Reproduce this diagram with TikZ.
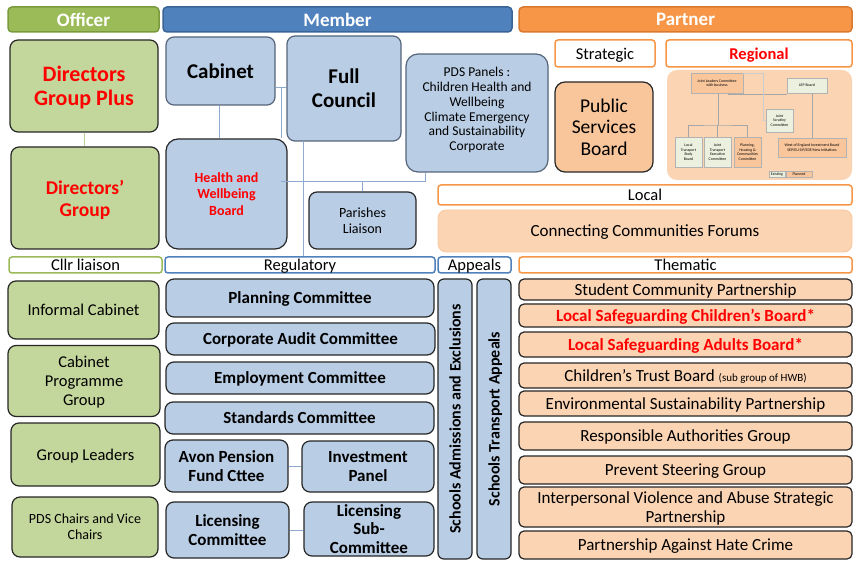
\documentclass[tikz,border=0pt]{standalone}
\usepackage{fontspec}
\setmainfont{Carlito}
\usetikzlibrary{positioning}
\definecolor{offgreen}{HTML}{9BBB59}
\definecolor{offgreendark}{HTML}{7A9A3E}
\definecolor{offlight}{HTML}{C3D69B}
\definecolor{memblue}{HTML}{4F81BD}
\definecolor{membluedark}{HTML}{3A6496}
\definecolor{memlight}{HTML}{B9CDE5}
\definecolor{partorange}{HTML}{F79646}
\definecolor{partorangedark}{HTML}{D97A30}
\definecolor{partlight}{HTML}{FBD4B4}
\definecolor{partmid}{HTML}{F9C69C}
\definecolor{linkblue}{HTML}{8EAAD0}
\definecolor{boxedge}{HTML}{262626}
\definecolor{softedge}{HTML}{55657A}
\definecolor{redtext}{HTML}{FF0000}
\definecolor{minigreen}{HTML}{EBF1DE}
\tikzstyle{head} = [rectangle, rounded corners=4pt, line width=1.5pt, inner sep=0pt, text=white, font=\fontsize{19}{22}\selectfont\bfseries]
\tikzstyle{officerhead} = [head, fill=offgreen, draw=offgreendark]
\tikzstyle{memberhead} = [head, fill=memblue, draw=membluedark]
\tikzstyle{partnerhead} = [head, fill=partorange, draw=partorangedark]
\tikzstyle{subhead} = [rectangle, rounded corners=3pt, line width=1.5pt, fill=white, inner sep=0pt, text depth=0pt, font=\fontsize{16.5}{18}\selectfont]
\tikzstyle{officersub} = [subhead, draw=offgreen]
\tikzstyle{membersub} = [subhead, draw=memblue]
\tikzstyle{partnersub} = [subhead, draw=partorange]
\tikzstyle{box} = [rectangle, rounded corners=8pt, line width=1.2pt, draw=boxedge, inner sep=1pt, text depth=0pt, align=center]
\tikzstyle{officerbox} = [box, fill=offlight, font=\fontsize{16.5}{19}\selectfont]
\tikzstyle{memberbox} = [box, fill=memlight, font=\fontsize{17}{18.5}\selectfont\bfseries]
\tikzstyle{partnerbox} = [box, fill=partlight, rounded corners=5pt, font=\fontsize{17}{19}\selectfont]
\tikzstyle{redbold} = [text=redtext, font=\fontsize{17}{19}\selectfont\bfseries]
\tikzstyle{link} = [line width=1pt, draw=linkblue]
\tikzstyle{minibox} = [rectangle, draw=gray!60, line width=0.4pt, inner sep=0.3pt, align=center, font=\fontsize{3.9}{4.5}\selectfont]
\tikzstyle{minilink} = [line width=0.5pt, draw=gray!70]

\begin{document}
\begin{tikzpicture}[x=1pt, y=-1pt]
\useasboundingbox [fill=white] (0,0) rectangle (854,561);

% column heads
\node (officerh) [officerhead, minimum width=151pt, minimum height=25pt] at (83.5,19.5) {Officer};
\node (memberh) [memberhead, minimum width=349pt, minimum height=25pt] at (337.5,19.5) {Member};
\node (partnerh) [partnerhead, minimum width=333pt, minimum height=25pt] at (685.5,19.5) {Partner};

% officer
\node (dgplus) [officerbox, redbold, font=\fontsize{22}{24}\selectfont\bfseries, minimum width=148pt, minimum height=92pt] at (84,86) {Directors\\Group Plus};
\node (dgroup) [officerbox, redbold, font=\fontsize{19.5}{22}\selectfont\bfseries, minimum width=148pt, minimum height=102pt] at (85,198) {Directors’\\Group};
\node (cllrh) [officersub, minimum width=153pt, minimum height=16pt] at (85.5,265) {Cllr liaison};
\node (infcab) [officerbox, minimum width=151pt, minimum height=58pt] at (83.5,310) {Informal Cabinet};
\node (cpg) [officerbox, minimum width=152pt, minimum height=71pt] at (84,381) {Cabinet\\Programme\\Group};
\node (leaders) [officerbox, minimum width=149pt, minimum height=63pt] at (85.5,454.5) {Group Leaders};
\node (pdschairs) [officerbox, font=\fontsize{14}{16}\selectfont, minimum width=146pt, minimum height=60pt] at (85,527) {PDS Chairs and Vice\\Chairs};

% member
\node (cabinet) [memberbox, draw=softedge, font=\fontsize{21}{24}\selectfont\bfseries, minimum width=109pt, minimum height=68pt] at (220.5,71) {Cabinet};
\node (council) [memberbox, draw=softedge, font=\fontsize{21}{24}\selectfont\bfseries, minimum width=114pt, minimum height=105pt] at (344,88.5) {Full\\Council};
\node (pdspanels) [memberbox, draw=softedge, rounded corners=12pt, text depth=8pt, font=\fontsize{13.5}{14.8}\selectfont, minimum width=142pt, minimum height=118pt] at (477,113) {PDS Panels :\\Children Health and\\Wellbeing\\Climate Emergency\\and Sustainability\\Corporate};
\node (hwb) [memberbox, rounded corners=12pt, text=redtext, font=\fontsize{14}{16.5}\selectfont\bfseries, minimum width=121pt, minimum height=110pt] at (226.5,194) {Health and\\Wellbeing\\Board};
\node (parishes) [memberbox, font=\fontsize{14}{16}\selectfont, minimum width=107pt, minimum height=57pt] at (362.5,220.5) {Parishes\\Liaison};
\node (regh) [membersub, minimum width=270pt, minimum height=16pt] at (300,265) {Regulatory};
\node (planning) [memberbox, minimum width=268pt, minimum height=38pt] at (300,298) {Planning Committee};
\node (audit) [memberbox, minimum width=269pt, minimum height=32pt] at (300.5,339) {Corporate Audit Committee};
\node (employ) [memberbox, minimum width=268pt, minimum height=32pt] at (300,378) {Employment Committee};
\node (standards) [memberbox, minimum width=269pt, minimum height=32pt] at (299.5,418) {Standards Committee};
\node (avon) [memberbox, minimum width=123pt, minimum height=52pt] at (226.5,466) {Avon Pension\\Fund Cttee};
\node (invest) [memberbox, minimum width=132pt, minimum height=51pt] at (368,466.5) {Investment\\Panel};
\node (licensing) [memberbox, minimum width=123pt, minimum height=56pt] at (227.5,530) {Licensing\\Committee};
\node (licsub) [memberbox, minimum width=130pt, minimum height=54pt] at (369,529) {Licensing\\Sub-\\Committee};
\node (appealsh) [membersub, minimum width=73pt, minimum height=16pt] at (474.5,265) {Appeals};
\node (admissions) [memberbox, font=\fontsize{16}{18}\selectfont\bfseries, rounded corners=6pt, rotate=90, minimum width=280pt, minimum height=34pt] at (455,419) {Schools Admissions and Exclusions};
\node (transport) [memberbox, font=\fontsize{16}{18}\selectfont\bfseries, rounded corners=6pt, rotate=90, minimum width=280pt, minimum height=34pt] at (494,419) {Schools Transport Appeals};

% partner
\node (strategich) [partnersub, minimum width=100pt, minimum height=27pt] at (605,53.5) {Strategic};
\node (regionalh) [partnersub, text=redtext, font=\fontsize{16.5}{18}\selectfont\bfseries, minimum width=186pt, minimum height=27pt] at (759,53.5) {Regional};
\node (psb) [partnerbox, fill=partmid, rounded corners=10pt, font=\fontsize{19.5}{21.5}\selectfont, minimum width=98pt, minimum height=90pt] at (604,127) {Public\\Services\\Board};
\node (regionbg) [rectangle, rounded corners=10pt, fill=partlight, minimum width=185pt, minimum height=110pt] at (759.5,125) {};
\node (localh) [partnersub, minimum width=414pt, minimum height=20pt] at (645,195) {Local};
\node (ccf) [partnerbox, draw=partlight!80!partorange, line width=0.8pt, rounded corners=8pt, minimum width=414pt, minimum height=42pt] at (645,231) {Connecting Communities Forums};
\node (thematich) [partnersub, minimum width=333pt, minimum height=16pt] at (685.5,265) {Thematic};
\node (scp) [partnerbox, minimum width=333pt, minimum height=21pt] at (685.5,289.5) {Student Community Partnership};
\node (lscb) [partnerbox, redbold, minimum width=333pt, minimum height=23pt] at (685.5,315.5) {Local Safeguarding Children's Board*};
\node (lsab) [partnerbox, redbold, minimum width=333pt, minimum height=25pt] at (685.5,344.5) {Local Safeguarding Adults Board*};
\node (ctb) [partnerbox, minimum width=333pt, minimum height=25pt] at (685.5,375.5) {Children’s Trust Board {\fontsize{11}{12}\selectfont(sub group of HWB)}};
\node (esp) [partnerbox, minimum width=333pt, minimum height=25pt] at (685.5,403.5) {Environmental Sustainability Partnership};
\node (rag) [partnerbox, minimum width=333pt, minimum height=28pt] at (685.5,436) {Responsible Authorities Group};
\node (psg) [partnerbox, minimum width=333pt, minimum height=28pt] at (685.5,470) {Prevent Steering Group};
\node (ivasp) [partnerbox, minimum width=333pt, minimum height=40pt] at (685.5,507) {Interpersonal Violence and Abuse Strategic\\Partnership};
\node (pahc) [partnerbox, minimum width=333pt, minimum height=28pt] at (685.5,545) {Partnership Against Hate Crime};

% regional chart
\node (jlc) [minibox, fill=partmid, minimum width=52pt, minimum height=20pt] at (717,83) {Joint Leaders Committee\\with business};
\node (lep) [minibox, fill=minigreen, minimum width=40pt, minimum height=15pt] at (807,85.5) {LEP Board};
\node (ltbb) [minibox, fill=minigreen, minimum width=27pt, minimum height=30pt] at (688.5,152) {Local\\Transport\\Body\\Board};
\node (jtec) [minibox, fill=minigreen, minimum width=27pt, minimum height=30pt] at (717.5,152) {Joint\\Transport\\Executive\\Committee};
\node (phcc) [minibox, fill=partmid, minimum width=27pt, minimum height=30pt] at (747.5,152) {Planning,\\Housing \&\\Communities\\Committee};
\node (jsc) [minibox, fill=minigreen, minimum width=27pt, minimum height=23pt] at (779.5,120.5) {Joint\\Scrutiny\\Committee};
\node (woeib) [minibox, fill=partmid, minimum width=68pt, minimum height=19pt] at (812,147.5) {West of England Investment Board\\SEP/EU SIF/EDF/New Initiatives};
\node (existing) [minibox, fill=minigreen, minimum width=16pt, minimum height=6pt] at (777,174) {Existing};
\node (planned) [minibox, fill=partmid, minimum width=26pt, minimum height=6pt] at (799,174) {Planned};
\coordinate (mj) at (728,94);
\coordinate (mb) at (718,125);
\draw [minilink] (jlc.south -| mj) -- (mj) -- (lep.south west |- mj);
\draw [minilink] (jlc.south -| mb) -- (mb);
\draw [minilink] (ltbb.north) |- (mb) -| (phcc.north);
\draw [minilink] (jtec.north) -- (jtec.north |- mb);
\draw [minilink] (woeib.north) -- (woeib.north |- lep.south);
\draw [minilink, gray!40] (jlc.north east) -- ++(20,0) |- (jsc.west);

% connectors
\coordinate (jn) at (281,88);
\coordinate (jhwb) at (281,182);
\coordinate (jpds) at (425,182);
\coordinate (jfc) at (303,141);
\draw [line width=1pt, draw=offlight!80!offgreen] (dgplus.south) -- (dgplus.south |- dgroup.north);
\draw [link] (cabinet.south -| 219,0) -- (hwb.north -| 219,0);
\draw [link] (cabinet.east |- jn) -- (council.west |- jn);
\draw [link] (jn) -- (jn |- hwb.north);
\draw [link] (jhwb) -- (jpds) -- (jpds |- pdspanels.south);
\draw [link] (parishes.north) -- (parishes.north |- jhwb);
\draw [link] (jfc) -- (jfc |- regh.north);
\draw [link] (avon.east) -- (avon.east -| invest.west);
\draw [link] (licensing.east) -- (licensing.east -| licsub.west);
\end{tikzpicture}
\end{document}
